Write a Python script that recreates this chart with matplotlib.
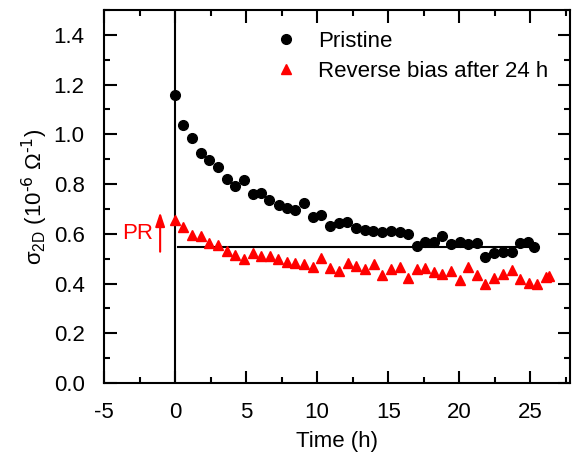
import numpy as np
import matplotlib
matplotlib.use('Agg')
import matplotlib.pyplot as plt

plt.rcParams['font.family'] = ['Liberation Sans', 'DejaVu Sans']
plt.rcParams['mathtext.default'] = 'regular'
plt.rcParams['axes.unicode_minus'] = False

# Pristine sample
t_pristine = [0.0, 0.59, 1.17, 1.81, 2.42, 3.05, 3.64, 4.25, 4.86, 5.45, 6.03,
              6.64, 7.28, 7.86, 8.47, 9.08, 9.69, 10.3, 10.92, 11.53, 12.11,
              12.75, 13.38, 13.92, 14.55, 15.19, 15.8, 16.39, 17.02, 17.6,
              18.19, 18.78, 19.42, 20.02, 20.61, 21.25, 21.83, 22.46, 23.08,
              23.68, 24.3, 24.86, 25.26]
s_pristine = [1.16, 1.038, 0.984, 0.926, 0.897, 0.868, 0.819, 0.792, 0.815,
              0.759, 0.766, 0.735, 0.716, 0.703, 0.697, 0.723, 0.669, 0.676,
              0.632, 0.642, 0.646, 0.625, 0.615, 0.613, 0.607, 0.611, 0.609,
              0.599, 0.551, 0.566, 0.566, 0.593, 0.559, 0.567, 0.558, 0.563,
              0.507, 0.524, 0.527, 0.526, 0.564, 0.566, 0.548]

# Reverse bias after 24 h
t_reverse = [0.0, 0.59, 1.2, 1.81, 2.39, 3.03, 3.64, 4.25, 4.86, 5.45, 6.03,
             6.67, 7.25, 7.86, 8.47, 9.08, 9.69, 10.3, 10.92, 11.53, 12.14,
             12.75, 13.36, 13.97, 14.58, 15.19, 15.8, 16.39, 16.99, 17.6,
             18.19, 18.8, 19.42, 20.02, 20.61, 21.25, 21.83, 22.46, 23.08,
             23.68, 24.3, 24.88, 25.49, 26.1, 26.3]
s_reverse = [0.656, 0.629, 0.595, 0.593, 0.563, 0.556, 0.53, 0.515, 0.499,
             0.524, 0.511, 0.51, 0.498, 0.486, 0.481, 0.477, 0.468, 0.502,
             0.461, 0.452, 0.481, 0.471, 0.457, 0.479, 0.433, 0.457, 0.465,
             0.424, 0.46, 0.464, 0.446, 0.438, 0.452, 0.413, 0.468, 0.433,
             0.397, 0.421, 0.437, 0.453, 0.417, 0.401, 0.397, 0.428, 0.432]

baseline = 0.547
baseline_range = [0.2, 25.5]

fs = 16

fig = plt.figure(figsize=(5.73, 4.57), dpi=100)
ax = fig.add_axes([0.1815, 0.162, 0.8135, 0.816])

ax.plot(t_pristine, s_pristine, 'o', color='k', markersize=7,
        linestyle='none', label='Pristine')
ax.plot(t_reverse, s_reverse, '^', color='#ff0000', markersize=7,
        linestyle='none', label='Reverse bias after 24 h')

ax.axvline(x=0, color='k', linewidth=1.5, zorder=1)
ax.plot(baseline_range, [baseline, baseline], color='k', linewidth=1.5, zorder=1)

# PR arrow
ax.annotate('', xy=(-1.05, 0.687), xytext=(-1.05, 0.528),
            arrowprops=dict(arrowstyle='-|>,head_length=0.6,head_width=0.2',
                            color='#ff0000', lw=1.5, mutation_scale=14,
                            shrinkA=0, shrinkB=0))
ax.text(-2.6, 0.6, 'PR', color='#ff0000', fontsize=fs, ha='center', va='center')

ax.set_xlim(-5, 27.8)
ax.set_ylim(0, 1.5)
ax.set_xticks(np.arange(-5, 26, 5))
ax.set_yticks(np.arange(0, 1.41, 0.2))
ax.set_xticks(np.arange(-2.5, 27.6, 5), minor=True)
ax.set_yticks(np.arange(0.1, 1.51, 0.2), minor=True)
ax.yaxis.set_major_formatter(matplotlib.ticker.FormatStrFormatter('%.1f'))

ax.tick_params(which='both', direction='in', top=True, right=True,
               width=1.5, labelsize=fs)
ax.tick_params(which='major', length=9)
ax.tick_params(which='minor', length=4.5)
ax.tick_params(axis='x', which='major', pad=14)
ax.tick_params(axis='y', which='major', pad=14)
for s in ax.spines.values():
    s.set_linewidth(1.5)

ax.set_xlabel('Time (h)', fontsize=fs, labelpad=5.5)
ax.set_ylabel(r'σ$_{2D}$ (10$^{\text{-6}}$ Ω$^{\text{-1}}$)', fontsize=fs, labelpad=2.5)

ax.legend(loc='upper left', bbox_to_anchor=(0.348, 0.968), frameon=False,
          fontsize=fs, handlelength=1.0, handletextpad=0.95,
          labelspacing=0.4, borderaxespad=0.0)

fig.savefig('out.png', dpi=100)
